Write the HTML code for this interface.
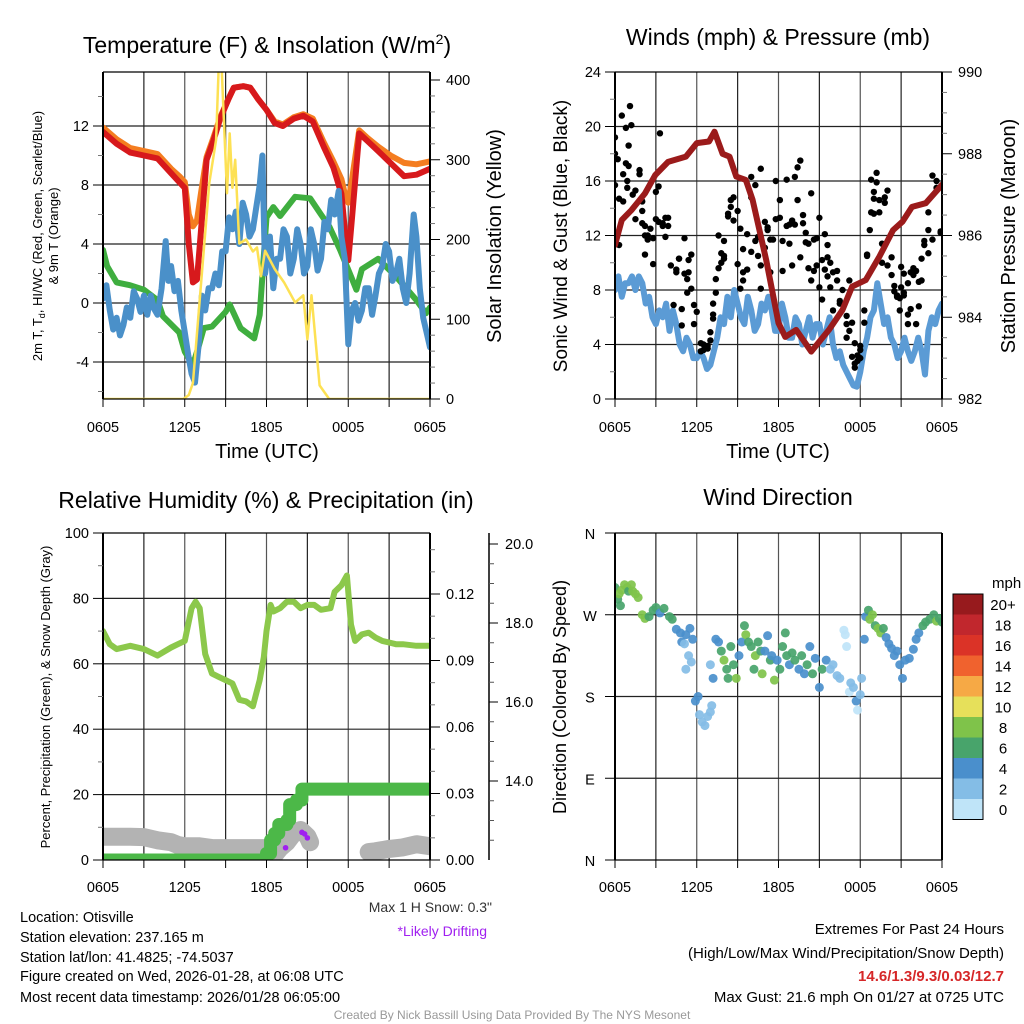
<!DOCTYPE html>
<html><head><meta charset="utf-8">
<style>
html,body{margin:0;padding:0;background:#fff;}
svg{display:block;font-family:"Liberation Sans",Arial,sans-serif;}
</style></head>
<body>
<svg id="chart" width="1024" height="1024" viewBox="0 0 1024 1024" xmlns="http://www.w3.org/2000/svg">
<rect x="0" y="0" width="1024" height="1024" fill="#fff"/>
<text x="267" y="53" font-size="23" text-anchor="middle">Temperature (F) &amp; Insolation (W/m<tspan dy="-9" font-size="14">2</tspan><tspan dy="9">)</tspan></text>
<text x="778" y="45" font-size="23" text-anchor="middle">Winds (mph) &amp; Pressure (mb)</text>
<text x="266" y="508" font-size="23" text-anchor="middle">Relative Humidity (%) &amp; Precipitation (in)</text>
<text x="778" y="505" font-size="23" text-anchor="middle">Wind Direction</text>
<text x="267" y="458" font-size="20" text-anchor="middle">Time (UTC)</text>
<text x="778" y="458" font-size="20" text-anchor="middle">Time (UTC)</text>
<text transform="translate(42,236) rotate(-90)" font-size="13" text-anchor="middle">2m T, T<tspan dy="3" font-size="9">d</tspan><tspan dy="-3">, HI/WC (Red, Green, Scarlet/Blue)</tspan></text>
<text transform="translate(58,236) rotate(-90)" font-size="13" text-anchor="middle">&amp; 9m T (Orange)</text>
<text transform="translate(501,236) rotate(-90)" font-size="20" text-anchor="middle">Solar Insolation (Yellow)</text>
<text transform="translate(567,236) rotate(-90)" font-size="19" text-anchor="middle">Sonic Wind &amp; Gust (Blue, Black)</text>
<text transform="translate(1015,236) rotate(-90)" font-size="20" text-anchor="middle">Station Pressure (Maroon)</text>
<text transform="translate(50,697) rotate(-90)" font-size="13" text-anchor="middle">Percent, Precipitation (Green), &amp; Snow Depth (Gray)</text>
<text transform="translate(566,697) rotate(-90)" font-size="18" text-anchor="middle">Direction (Colored By Speed)</text>
<text x="492" y="912" font-size="14" fill="#333" text-anchor="end">Max 1 H Snow: 0.3"</text>
<text x="487" y="936" font-size="14" fill="#a020f0" text-anchor="end">*Likely Drifting</text>
<g font-size="14.5">
<text x="20" y="922">Location: Otisville</text>
<text x="20" y="942">Station elevation: 237.165 m</text>
<text x="20" y="962">Station lat/lon: 41.4825; -74.5037</text>
<text x="20" y="981">Figure created on Wed, 2026-01-28, at 06:08 UTC</text>
<text x="20" y="1002">Most recent data timestamp: 2026/01/28 06:05:00</text>
</g>
<g font-size="15" text-anchor="end">
<text x="1004" y="934">Extremes For Past 24 Hours</text>
<text x="1004" y="958">(High/Low/Max Wind/Precipitation/Snow Depth)</text>
<text x="1004" y="981" fill="#d62728" font-weight="bold">14.6/1.3/9.3/0.03/12.7</text>
<text x="1004" y="1002">Max Gust: 21.6 mph On 01/27 at 0725 UTC</text>
</g>
<text x="512" y="1019" font-size="12" fill="#999" text-anchor="middle">Created By Nick Bassill Using Data Provided By The NYS Mesonet</text>
</svg>
<script>
// ---------- DATA ----------
const timeTickLabels = ["0605","1205","1805","0005","0605"];
const tempTicks = [-4,0,4,8,12];
const insolTicks = [0,100,200,300,400];
const windTicks = [0,4,8,12,16,20,24];
const pressTicks = [982,984,986,988,990];
const rhTicks = [0,20,40,60,80,100];
const precipTicks = [0.00,0.03,0.06,0.09,0.12];
const snowTicks = [14.0,16.0,18.0,20.0];
const dirTicks = [0,90,180,270,360];
const dirTickLabels = ["N","E","S","W","N"];

const tempHours = [0,1,2,3,4,5,5.6,6,6.3,6.6,6.9,7.2,7.6,8.1,8.6,9.2,9.6,10.3,10.8,11.4,12,12.6,13.2,14,14.7,15.4,16.2,16.9,17.5,17.8,18,18.3,18.8,19.4,20.2,21.1,22.1,23,24];
const airTemp =   [11.6,10.8,10.2,10.0,9.8,8.8,8.2,7.8,4,1.4,1.6,5,9.7,11,12.5,13.8,14.6,14.7,14.6,13.8,13.1,12.2,12.0,12.5,12.7,12.3,10.6,9.2,7.4,4.5,2.9,6,11.5,11.0,10.3,9.5,8.6,8.7,9.1];
const temp9m =    [11.9,11.1,10.5,10.3,10.1,9.1,8.6,8.2,6,5.2,5.6,7.5,9.9,11.2,12.6,13.8,14.6,14.7,14.6,13.8,13.1,12.3,12.1,12.6,12.8,12.5,10.9,9.6,8.4,7.2,6.8,8.5,11.7,11.2,10.6,10.0,9.5,9.4,9.6];
const dewHours = [0,0.3,1,2,3,4,4.4,5.6,6,6.6,7,7.4,8,9,9.3,10.1,11.1,11.5,12,12.5,13,14.1,15.2,16,16.6,17.4,18.2,18.6,19,20.2,21.5,23,23.7,24];
const dewPoint = [3.6,2.5,1.4,1.2,0.9,0.2,-0.9,-2.0,-3.3,-4.2,-3.0,-1.7,-1.6,-0.6,-0.1,-1.7,-2.4,-0.8,5.8,6.5,5.9,7.2,7.1,6.0,5.2,3.6,1.8,0.9,2.3,3.0,1.8,0.2,-0.7,-0.3];
const hiwcHours = [0,0.25,0.5,0.75,1,1.25,1.5,1.75,2,2.25,2.5,2.75,3,3.25,3.5,3.75,4,4.3,4.6,4.8,5,5.25,5.5,5.75,6,6.25,6.5,6.75,7,7.25,7.5,7.75,8,8.25,8.5,8.75,9,9.25,9.5,9.75,10,10.25,10.5,10.75,11,11.25,11.5,11.7,11.9,12.25,12.5,12.75,13,13.25,13.5,13.75,14,14.25,14.5,14.75,15,15.25,15.5,15.75,16,16.25,16.5,16.75,17,17.3,17.5,17.75,18,18.25,18.5,18.75,19,19.25,19.5,19.75,20,20.25,20.5,20.75,21,21.25,21.5,21.75,22,22.25,22.5,22.8,23,23.25,23.5,23.75,24];
const hiwcTemp = [0.3,1.2,-0.5,-1.8,-1.0,-2.2,-1.5,-0.3,-1.0,0.8,0.3,-0.6,0.5,-0.8,0.5,-0.4,-0.8,1.0,4.2,1.5,2.5,0.8,1.5,-0.5,-2.0,-3.5,-4.8,-5.4,-3.0,0.5,-0.5,1.0,1.0,2.0,1.2,3.5,3.5,5.8,5.0,6.2,4.0,6.8,6.0,4.5,5.0,6.5,8.0,10.0,2.0,4.5,1.0,3.0,3.0,5.0,4.5,2.0,3.0,5.0,4.0,2.0,2.5,5.0,4.0,2.2,3.0,5.5,5.0,7.0,6.0,7.6,4.5,3.0,-2.8,-0.5,0.0,-1.2,-0.5,1.0,1.0,-0.8,0.5,2.0,2.5,4.0,3.5,1.5,2.0,3.0,1.0,0.0,2.0,6.0,4.5,1.0,-1.0,-2.0,-3.0];
const insolHours = [0,5.9,6.3,6.6,7.1,7.8,8.3,8.5,8.7,9.1,9.3,9.5,9.7,10,10.5,11,11.3,11.6,11.9,12.6,13.3,14.1,14.7,15,15.3,15.9,16.6,24];
const insolation = [0,0,5,20,124,271,325,420,420,258,333,265,300,195,200,185,190,154,186,163,146,121,130,75,130,17,0,0];

const pressHours = [0,0.5,1.2,2.2,2.96,3.9,5.2,6,6.9,7.3,7.9,8.4,8.9,9.6,10.1,11.1,12,12.5,13.3,14.4,15.7,16.7,17.4,18.4,19.4,20.4,21.1,21.8,22.8,24];
const pressure = [985.77,986.38,986.62,987.03,987.48,987.8,987.93,988.26,988.3,988.54,988.0,987.93,987.44,987.36,986.87,985.4,983.86,983.52,983.69,983.16,983.69,984.18,984.75,984.91,985.48,986.13,986.34,986.7,986.79,987.24];
const windHours = [0,0.25,0.5,0.75,1,1.25,1.5,1.75,2,2.25,2.5,2.75,3,3.25,3.5,3.75,4,4.25,4.5,4.75,5,5.25,5.5,5.75,6,6.25,6.5,6.75,7,7.25,7.5,7.75,8,8.25,8.5,8.75,9,9.25,9.5,9.75,10,10.25,10.5,10.75,11,11.25,11.5,11.75,12,12.25,12.5,12.75,13,13.25,13.5,13.75,14,14.25,14.5,14.75,15,15.25,15.5,15.75,16,16.25,16.5,16.75,17,17.25,17.5,17.75,18,18.25,18.5,18.75,19,19.25,19.5,19.75,20,20.25,20.5,20.75,21,21.25,21.5,21.75,22,22.25,22.5,22.75,23,23.25,23.5,23.75,24];
const windSpeed = [8,9,7.5,8.5,8.5,9,8,9,8.5,7,7.5,6,5.5,6.5,6,7,5,6.5,5.5,4,3.5,4.5,4,3,3,3.5,3,2.2,2.5,3.5,4.5,6,5.5,7.5,6,8,7,6,5.5,7.5,6.5,5,5.5,7,6.5,7.5,6.5,5,5,7,6,4.5,4.5,6,5.5,4,5,6,4.5,5.5,5.5,4,5,6,4,3,3.5,2.5,2,1.5,1.0,0.9,2,3.5,4.5,6,6.5,8.5,7,5.5,6,4.5,4,3,3.5,4.5,3.5,2.8,3.5,4.5,3.5,1.8,5,6,5.5,6.5,7];
const gustTimes = [0,0.2,0.3,0.5,0.6,0.8,0.9,1.0,1.1,1.2,1.3,1.5,1.8,2.0,2.2,2.4,2.6,2.8,3.0,3.2,3.3,3.5,3.7,3.9,4.1,4.3,4.5,4.7,4.9,5.1,5.3,5.4,5.6,5.8,6.0,6.3,6.5,6.8,7.0,7.2,7.4,7.6,7.8,8.0,8.3,8.5,8.7,9.0,9.2,9.4,9.7,10.0,10.3,10.5,10.7,11.0,11.2,11.4,11.6,11.8,12.1,12.3,12.6,12.8,13.0,13.2,13.4,13.6,13.8,14.0,14.2,14.4,14.6,14.8,15.0,15.2,15.4,15.6,15.8,16.0,16.3,16.5,16.7,17.0,17.2,17.4,17.6,17.8,18.0,18.3,18.5,18.7,18.8,19.0,19.2,19.4,19.6,19.8,20.0,20.3,20.5,20.7,20.9,21.0,21.2,21.5,21.7,21.9,22.1,22.3,22.5,22.7,23.0,23.3,23.6,23.9];
const gustSets = [[18,15.7,19.2],[17.6],[14.7,11.3],[20.8],[16.5,14.5],[19.9,17.3],[16.0,15.5],[17.1,18.6],[21.5],[20.1],[15.0],[13.2,15.3],[16.8,16.5],[14.5,12.9,13.8],[12.7,12.0,10.6],[12.0,11.7],[12.5],[9.9,11.8],[13.2,15.2],[15.6,13.0],[19.5],[12.9,12.7],[13.3,11.9],[12.7,13.3],[9.8],[6.9],[9.5,9.3],[10.3,10.3],[5.4,6.6],[9.2,11.8],[7.8,8.8],[9.3,10.2],[10.6,8.1],[5.5,6.9],[6.4],[3.5,4.1],[3.6,4.0],[3.7,3.9],[4.9,4.3],[5.9,6.2,7.0],[7.8,8.8],[12.0,9.6],[10.0,10.7],[10.3,10.5,11.6],[13.6,13.4],[14.6,14.1],[14.8,13.1],[9.9,13.8],[12.5,8.1],[8.7,9.3,11.0],[12.1,9.5],[10.8,14.8,16.3],[11.6,15.7],[11.9,10.5],[9.8,8.1,16.9],[11.1,13.0],[12.4,12.6],[9.3,11.7],[11.7],[16.0,13.2],[13.3,14.6],[11.6,9.4],[16.1,12.7],[11.4,12.8],[9.8,13.1],[16.3,12.8],[17.0,14.6],[17.5,10.4],[13.5,12.9],[12.2,11.5],[9.6,11.4],[15.1,8.7],[11.7,9.4],[11.8,9.8],[13.3,8.2],[7.3,10.2],[9.5,12.1],[9.0,10.4,11.3],[10.0,8.2],[9.3,6.5],[9.4,8.7],[7.2,7.0],[8.0],[4.5,6.1,5.5],[8.7,5.0],[3.1,5.6],[4.1,2.6,2.3],[3.2,2.8],[3.9,3.0,3.6],[5.6,6.5],[10.6,10.5],[12.4],[16.1,13.7],[15.2,14.7,13.6],[16.6,15.9],[14.6,13.7],[11.4,10.0],[14.8,14.4],[15.3,9.8],[9.1,10.4],[8.3,7.9],[7.6,7.5],[6.5,7.4],[9.7,8.2],[9.2,7.6,7.8],[8.5,5.5,6.2],[9.3,6.6],[9.6,9.1],[9.4,5.5],[6.8,8.6],[8.7,10.3],[11.3,11.6],[10.7,12.4,13.7],[11.7,16.4],[15.5,16.0],[12.2,12.3]];

const rhHours = [0,0.5,1,2,3,4,5,5.5,6,6.5,6.8,7.1,7.5,8,8.5,9,9.5,10,10.5,11,11.5,11.8,12,12.3,12.5,13,13.5,14,14.5,15,15.5,16,16.7,17,17.5,17.9,18.2,18.5,19,19.5,20,20.5,21,21.5,22,23,24];
const relHumidity = [70,66,64.5,65.5,64.5,62.5,65,66,67,77,79,77,63,57,56,55,54,49,48.5,47,55,62,70,78,76,77,79,79,77,78,78,76.5,77,82,84,87,72,67,69,69.5,68,67,66.5,66,66,65.5,65.5];
const precipHours = [0,11.9,12.0,12.3,12.6,12.9,13.5,13.7,14.2,14.6,24];
const precipAccum = [0,0,0.003,0.009,0.012,0.016,0.018,0.025,0.027,0.032,0.032];
const snowHours = [0,1,2,3,4,5,5.5,6,7,8,9,10,11,12,12.4,13,13.5,14,14.5,15,15.2,null,19.5,20,21,22,23,24];
const snowDepth = [12.59,12.59,12.59,12.58,12.5,12.45,12.38,12.35,12.35,12.3,12.3,12.3,12.3,12.3,12.05,12.3,12.45,12.68,12.76,12.6,12.45,null,12.2,12.22,12.28,12.32,12.4,12.35];
const driftHours = [13.4,14.6,14.8,15.0];
const driftDepth = [12.31,12.7,12.66,12.56];

const dirHours = [0,0.2,0.3,0.4,0.5,0.7,0.9,1.0,1.2,1.3,1.5,1.7,2,2.2,2.5,2.8,3.0,3.3,3.6,4.0,4.2,4.5,4.8,4.9,5.1,5.2,5.2,5.4,5.5,5.6,5.7,5.9,6.1,6.2,6.4,6.6,6.8,7.0,7.0,7.1,7.2,7.4,7.6,7.8,8.0,8.2,8.3,8.5,8.7,8.9,9.1,9.3,9.5,9.6,9.8,10.0,10.2,10.3,10.5,10.7,10.8,11.0,11.2,11.4,11.5,11.7,11.9,12.1,12.3,12.5,12.6,12.8,13.0,13.2,13.5,13.7,13.9,14.1,14.3,14.5,14.7,15.0,15.2,15.5,15.8,16.0,16.3,16.5,16.8,16.9,17.0,17.2,17.3,17.5,17.7,17.8,18.0,18.1,18.3,18.4,18.6,18.7,18.9,19.1,19.3,19.5,19.7,19.9,20.1,20.3,20.5,20.7,20.9,21.1,21.3,21.6,21.9,22.1,22.3,22.6,22.8,23.1,23.4,23.6,23.8,24];
const dirDegrees = [300,287,293,280,297,303,300,296,303,296,293,289,270,266,268,275,278,272,277,268,265,254,250,240,238,248,210,225,255,218,243,175,180,160,152,148,158,163,215,170,200,243,240,230,220,210,200,235,215,200,225,240,258,248,240,235,210,225,240,230,205,230,247,220,225,198,220,210,235,250,225,215,228,220,210,225,205,215,235,205,222,190,210,220,210,215,203,200,253,248,235,185,195,190,175,165,182,200,243,268,275,265,270,258,255,250,255,245,238,233,225,230,215,200,220,222,232,243,250,258,262,265,270,263,266,262];
const dirSpeed = [7,7,9,7,9,9,9,7,9,9,9,9,9,9,7,7,7,5,7,7,7,5,5,5,3,5,3,3,5,3,5,5,5,3,3,3,3,3,3,3,5,5,5,7,9,7,7,7,7,9,5,5,7,9,7,7,7,9,7,7,9,5,5,7,5,9,5,7,7,7,7,5,7,7,5,7,5,7,5,7,5,5,7,5,3,3,3,3,1,1,1,1,3,3,5,1,3,3,5,5,7,9,9,7,9,9,7,5,5,5,5,5,5,5,5,5,5,5,5,7,7,7,7,9,7,7];
const speedBinLabels = ["20+","18","16","14","12","10","8","6","4","2","0"];
const speedBinColors = ["#971a1d","#c1272d","#db3327","#f0622e","#f6a945","#e6e05a","#7fc34a","#48a46b","#4a8fcc","#84bde6","#bfe4f8"];

// ---------- HELPERS ----------
const NS = "http://www.w3.org/2000/svg";
const svg = document.getElementById('chart');
function mk(tag, attrs, parent, name, inter) {
  const e = document.createElementNS(NS, tag);
  for (const k in attrs) e.setAttribute(k, attrs[k]);
  
  
  (parent || svg).appendChild(e);
  return e;
}
function txt(x, y, s, attrs, parent, name) {
  const t = mk('text', Object.assign({x: x, y: y}, attrs || {}), parent, name, false);
  t.textContent = s;
  return t;
}
function pathFrom(xs, ys, fx, fy) {
  let d = "", pen = false;
  for (let i = 0; i < xs.length; i++) {
    if (xs[i] === null || ys[i] === null) { pen = false; continue; }
    d += (pen ? "L" : "M") + fx(xs[i]).toFixed(1) + "," + fy(ys[i]).toFixed(1);
    pen = true;
  }
  return d;
}
function stepPath(xs, ys, fx, fy) {
  let d = "M" + fx(xs[0]) + "," + fy(ys[0]);
  for (let i = 1; i < xs.length; i++) d += "L" + fx(xs[i]) + "," + fy(ys[i - 1]) + "L" + fx(xs[i]) + "," + fy(ys[i]);
  return d;
}

const PW = 327;
function makePanel(id, x0, y0) {
  const g = mk('g', {}, svg, id + '-panel', false);
  const defs = mk('defs', {}, g, id + '-defs', false);
  const cp = mk('clipPath', {id: id + '-clip'}, defs, id + '-clip', false);
  mk('rect', {x: x0, y: y0, width: PW, height: PW}, cp, id + '-clip-rect', false);
  const grid = mk('g', {}, g, id + '-grid', false);
  for (let i = 0; i <= 8; i++) {
    const x = x0 + i * PW / 8;
    mk('line', {x1: x, x2: x, y1: y0 - (i % 2 ? 0 : 0), y2: y0 + PW, stroke: (i % 2) ? '#222' : '#555', 'stroke-width': 1.2}, grid, id + '-vgrid-' + i, false);
    mk('line', {x1: x, x2: x, y1: y0 + PW, y2: y0 + PW + 8, stroke: '#000', 'stroke-width': 1}, grid, id + '-x-tick-' + i, false);
  }
  const series = mk('g', {'clip-path': 'url(#' + id + '-clip)'}, g, id + '-series', false);
  const frame = mk('g', {}, g, id + '-frame', false);
  return {g: g, grid: grid, series: series, frame: frame, x0: x0, y0: y0};
}
function frameBox(p, id) {
  mk('line', {x1: p.x0, x2: p.x0, y1: p.y0, y2: p.y0 + PW, stroke: '#000', 'stroke-width': 2}, p.frame, id + '-left-border', false);
  mk('line', {x1: p.x0 + PW, x2: p.x0 + PW, y1: p.y0, y2: p.y0 + PW, stroke: '#000', 'stroke-width': 2}, p.frame, id + '-right-border', false);
  mk('line', {x1: p.x0, x2: p.x0 + PW, y1: p.y0, y2: p.y0, stroke: '#000', 'stroke-width': 1.2}, p.frame, id + '-top-border', false);
  mk('line', {x1: p.x0, x2: p.x0 + PW, y1: p.y0 + PW, y2: p.y0 + PW, stroke: '#000', 'stroke-width': 1.2}, p.frame, id + '-bottom-border', false);
}
function xLabels(p, id, y) {
  for (let i = 0; i < timeTickLabels.length; i++) {
    txt(p.x0 + i * PW / 4, y, timeTickLabels[i], {'font-size': 14.5, 'text-anchor': 'middle'}, p.frame, id + '-x-label-' + i);
  }
}
function hGrid(p, id, vals, fy) {
  vals.forEach(function (v, i) {
    mk('line', {x1: p.x0, x2: p.x0 + PW, y1: fy(v), y2: fy(v), stroke: '#222', 'stroke-width': 1.2}, p.grid, id + '-hgrid-' + i, false);
  });
}
function leftAxis(p, id, vals, labels, fy, minors) {
  vals.forEach(function (v, i) {
    const y = fy(v);
    mk('line', {x1: p.x0 - 10, x2: p.x0, y1: y, y2: y, stroke: '#000', 'stroke-width': 1}, p.frame, id + '-left-tick-' + i, false);
    txt(p.x0 - 14, y + 5, labels[i], {'font-size': 14.5, 'text-anchor': 'end'}, p.frame, id + '-left-label-' + i);
  });
  (minors || []).forEach(function (v, i) {
    mk('line', {x1: p.x0 - 5, x2: p.x0, y1: fy(v), y2: fy(v), stroke: '#777', 'stroke-width': 1}, p.frame, id + '-left-minor-' + i, false);
  });
}
function rightAxis(p, id, vals, labels, fy, minors, xOff) {
  const xa = p.x0 + PW + (xOff || 0);
  vals.forEach(function (v, i) {
    const y = fy(v);
    mk('line', {x1: xa, x2: xa + 10, y1: y, y2: y, stroke: '#000', 'stroke-width': 1}, p.frame, id + '-right-tick-' + i, false);
    txt(xa + 16, y + 5, labels[i], {'font-size': 14.5}, p.frame, id + '-right-label-' + i);
  });
  (minors || []).forEach(function (v, i) {
    mk('line', {x1: xa, x2: xa + 5, y1: fy(v), y2: fy(v), stroke: '#777', 'stroke-width': 1}, p.frame, id + '-right-minor-' + i, false);
  });
}
function range(a, b, s) { const r = []; for (let v = a; v <= b + 1e-9; v += s) r.push(+v.toFixed(4)); return r; }
function line(p, xs, ys, fx, fy, color, w, name, step) {
  const d = step ? stepPath(xs, ys, fx, fy) : pathFrom(xs, ys, fx, fy);
  return mk('path', {d: d, fill: 'none', stroke: color, 'stroke-width': w, 'stroke-linejoin': 'round', 'stroke-linecap': 'round'}, p.series, name, false);
}

// ---------- PANEL 1: TEMPERATURE ----------
const p1 = makePanel('temp', 103, 72);
const x1 = function (h) { return 103 + h * PW / 24; };
const yT = function (v) { return 303 - v * 14.75; };
const yIns = function (v) { return 399 - v * 319 / 400; };
hGrid(p1, 'temp', tempTicks, yT);
line(p1, tempHours, temp9m, x1, yT, '#f47d20', 6, 'temp-9m-line');
line(p1, tempHours, airTemp, x1, yT, '#d7191c', 6, 'temp-2m-line');
line(p1, dewHours, dewPoint, x1, yT, '#3fae3f', 6, 'dewpoint-line');
line(p1, hiwcHours, hiwcTemp, x1, yT, '#4a90c9', 6, 'heat-index-wind-chill-line');
line(p1, insolHours, insolation, x1, yIns, '#fde154', 2.5, 'insolation-line');
frameBox(p1, 'temp');
leftAxis(p1, 'temp', tempTicks, tempTicks.map(String), yT, range(-6, 14, 2).filter(function (v) { return v % 4; }));
rightAxis(p1, 'insol', insolTicks, insolTicks.map(String), yIns, range(20, 380, 20).filter(function (v) { return v % 100; }));
xLabels(p1, 'temp', 432);

// ---------- PANEL 2: WINDS ----------
const p2 = makePanel('wind', 615, 72);
const x2 = function (h) { return 615 + h * PW / 24; };
const yW = function (v) { return 399 - v * PW / 24; };
const yP = function (v) { return 399 - (v - 982) * PW / 8; };
hGrid(p2, 'wind', windTicks.slice(1, -1), yW);
line(p2, windHours, windSpeed, x2, yW, '#5b9bd5', 6, 'sonic-wind-line');
const gustG = mk('g', {}, p2.series, 'gust-points', false);
gustTimes.forEach(function (h, i) {
  gustSets[i].forEach(function (v, j) {
    const c = mk('circle', {cx: x2(h), cy: yW(v), r: 3.2, fill: '#000'}, gustG, 'gust-point', false);
  });
});
line(p2, pressHours, pressure, x2, yP, '#9b1b1b', 6, 'pressure-line');
frameBox(p2, 'wind');
leftAxis(p2, 'wind', windTicks, windTicks.map(String), yW, range(2, 22, 2).filter(function (v) { return v % 4; }));
rightAxis(p2, 'press', pressTicks, pressTicks.map(String), yP, range(982.5, 989.5, 0.5).filter(function (v) { return v % 2; }));
xLabels(p2, 'wind', 432);

// ---------- PANEL 3: RH / PRECIP ----------
const p3 = makePanel('rh', 103, 533);
const x3 = x1;
const yR = function (v) { return 860 - v * 3.27; };
const yPr = function (v) { return 860 - v * 66.5 / 0.03; };
const ySn = function (v) { return 860 - (v - 12) * 39.5; };
hGrid(p3, 'rh', rhTicks.slice(1, -1), yR);
line(p3, snowHours, snowDepth, x3, ySn, '#b3b3b3', 18, 'snow-depth-line');
const driftG = mk('g', {}, p3.series, 'drifting-points', false);
driftHours.forEach(function (h, i) {
  mk('circle', {cx: x3(h), cy: ySn(driftDepth[i]), r: 2.8, fill: '#a020f0'}, driftG, 'drifting-point', false);
});
line(p3, precipHours, precipAccum, x3, yPr, '#4cb848', 13, 'precipitation-line', true);
line(p3, rhHours, relHumidity, x3, yR, '#8cc84b', 6, 'relative-humidity-line');
frameBox(p3, 'rh');
leftAxis(p3, 'rh', rhTicks, rhTicks.map(String), yR, range(10, 90, 10).filter(function (v) { return v % 20; }));
rightAxis(p3, 'precip', precipTicks, precipTicks.map(function (v) { return v.toFixed(2); }), yPr, range(0.01, 0.14, 0.01).filter(function (v) { return Math.round(v * 100) % 3; }));
mk('line', {x1: 489, x2: 489, y1: 533, y2: 860, stroke: '#000', 'stroke-width': 1.5}, p3.frame, 'snow-axis-line', false);
snowTicks.forEach(function (v, i) {
  mk('line', {x1: 489, x2: 498, y1: ySn(v), y2: ySn(v), stroke: '#000', 'stroke-width': 1}, p3.frame, 'snow-tick-' + i, false);
  txt(505, ySn(v) + 5, v.toFixed(1), {'font-size': 14.5}, p3.frame, 'snow-label-' + i);
});
range(12.5, 20, 0.5).filter(function (v) { return v % 2; }).forEach(function (v, i) {
  mk('line', {x1: 489, x2: 494, y1: ySn(v), y2: ySn(v), stroke: '#555', 'stroke-width': 1}, p3.frame, 'snow-minor-' + i, false);
});
xLabels(p3, 'rh', 892);

// ---------- PANEL 4: WIND DIRECTION ----------
const p4 = makePanel('dir', 615, 533);
const x4 = x2;
const yD = function (d) { return 860 - d * PW / 360; };
hGrid(p4, 'dir', [90, 180, 270], yD);
function speedColor(s) {
  const idx = Math.min(10, Math.floor(s / 2));
  return speedBinColors[10 - idx];
}
const dirG = mk('g', {}, p4.series, 'direction-points', false);
dirHours.forEach(function (h, i) {
  mk('circle', {cx: x4(h), cy: yD(dirDegrees[i]), r: 4.5, fill: speedColor(dirSpeed[i]), 'fill-opacity': 0.92}, dirG, 'direction-point', false);
});
frameBox(p4, 'dir');
dirTicks.forEach(function (v, i) {
  mk('line', {x1: 605, x2: 615, y1: yD(v), y2: yD(v), stroke: '#000', 'stroke-width': 1}, p4.frame, 'dir-left-tick-' + i, false);
  txt(590, yD(v) + 6, dirTickLabels[i], {'font-size': 14.5, 'text-anchor': 'middle'}, p4.frame, 'dir-left-label-' + i);
});
xLabels(p4, 'dir', 892);

// colorbar legend
const leg = mk('g', {}, svg, 'speed-colorbar', false);
txt(992, 588, 'mph', {'font-size': 15}, leg, 'colorbar-unit');
speedBinLabels.forEach(function (lab, i) {
  const y = 594 + i * 20.5;
  mk('rect', {x: 953, y: y, width: 30, height: 20.5, fill: speedBinColors[i]}, leg, 'colorbar-box-' + lab, false);
  txt(1003, y + 16, lab, {'font-size': 15, 'text-anchor': 'middle'}, leg, 'colorbar-label-' + lab);
});
mk('rect', {x: 953, y: 594, width: 30, height: 225.5, fill: 'none', stroke: '#000', 'stroke-width': 1}, leg, 'colorbar-outline', false);
</script>
</body></html>
